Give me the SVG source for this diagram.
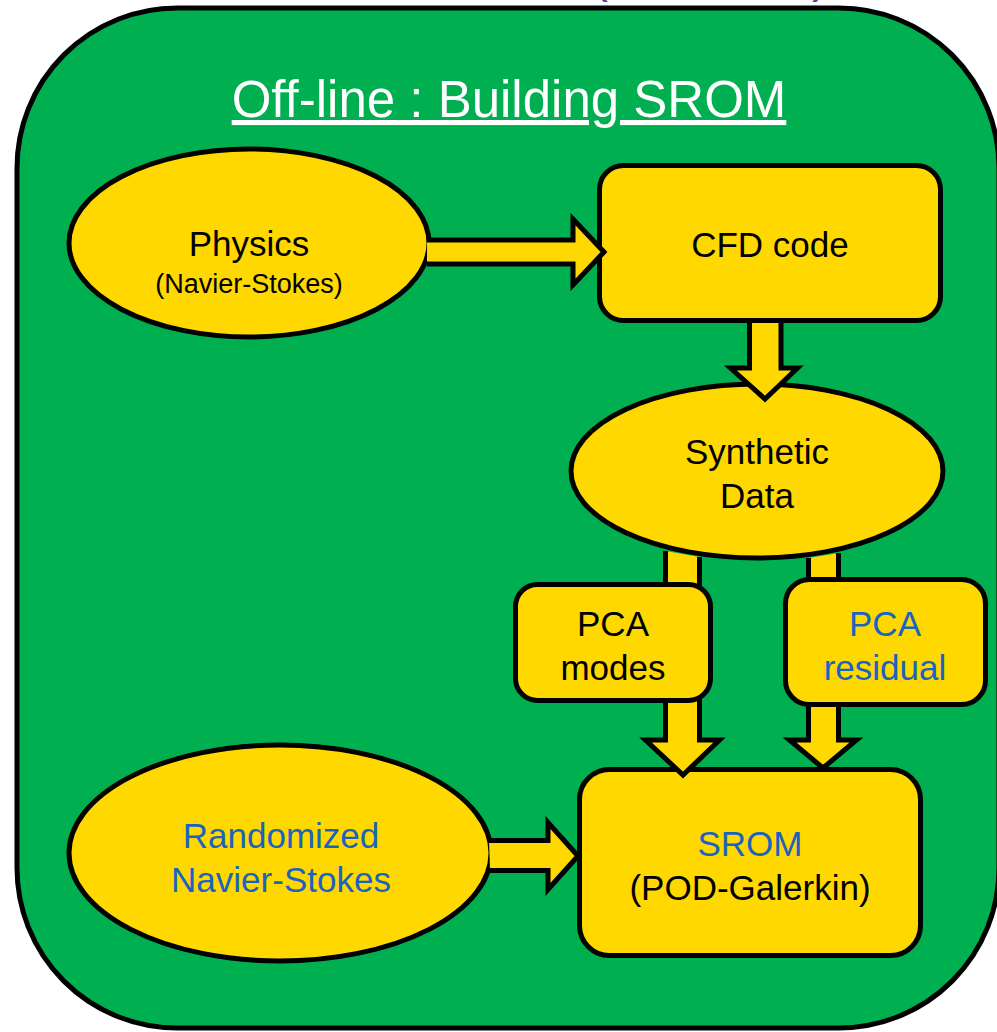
<svg xmlns="http://www.w3.org/2000/svg" width="997" height="1032" viewBox="0 0 997 1032">
<defs>
<style>
.node{fill:#FFD800;stroke:#000;stroke-width:5}
.arrow{fill:#FFD800;stroke:#000;stroke-width:5;stroke-linejoin:miter;stroke-miterlimit:10}
.t{font-family:"Liberation Sans",Arial,sans-serif;font-size:35px;text-anchor:middle;fill:#000}
.blue{fill:#1B63BF}
.small{font-size:27px}
</style>
</defs>
<rect width="997" height="1032" fill="#FFFFFF"/>
<g id="cut-title">
<text x="592" y="-8" font-family="Liberation Sans,sans-serif" font-size="48" fill="#7030A0">(</text>
<text x="812" y="-8" font-family="Liberation Sans,sans-serif" font-size="48" fill="#7030A0">)</text>
</g>
<g id="frame">
<rect x="17" y="8" width="982" height="1020" rx="160" ry="160" fill="#00AF50" stroke="#000" stroke-width="5"/>
<text x="509" y="117" font-family="Liberation Sans,Arial,sans-serif" font-size="51" fill="#FFFFFF" text-anchor="middle" text-decoration="underline">Off-line : Building SROM</text>
</g>
<g id="physics">
<ellipse class="node" cx="249" cy="243" rx="180" ry="94"/>
<text class="t" x="249" y="256">Physics</text>
<text class="t small" x="249" y="293">(Navier-Stokes)</text>
</g>
<g id="cfd">
<rect class="node" x="599.5" y="165.5" width="341" height="155" rx="24"/>
<text class="t" x="770" y="257">CFD code</text>
</g>
<g id="synthetic">
<ellipse class="node" cx="757" cy="471" rx="186" ry="87"/>
<text class="t" x="757" y="464">Synthetic</text>
<text class="t" x="757" y="508">Data</text>
</g>
<g id="randomized">
<ellipse class="node" cx="280" cy="853" rx="211" ry="108"/>
<text class="t blue" x="281" y="848">Randomized</text>
<text class="t blue" x="281" y="892">Navier-Stokes</text>
</g>
<g id="srom">
<rect class="node" x="579.5" y="769.5" width="341" height="186" rx="30"/>
<text class="t blue" x="750" y="856">SROM</text>
<text class="t" x="750" y="900">(POD-Galerkin)</text>
</g>
<g id="connectors">
<path class="arrow" d="M427,240 H573 V219 L604,252 L573,285 V264 H427"/>
<path class="arrow" d="M749.5,323 V368 H730.5 L765,399 L797.5,368 H781 V323"/>
<path class="arrow" d="M665.5,551 V740 H645.5 L683,775 L719.5,740 H699.5 V557"/>
<path class="arrow" d="M808.5,558 V740 H789.5 L823,768 L856.5,740 H838.5 V553"/>
<path class="arrow" d="M489,840.5 H548 V822.5 L578,856 L548,889.5 V870.5 H490"/>
</g>
<g id="pca-modes">
<rect class="node" x="515.5" y="584.5" width="195" height="116" rx="22"/>
<text class="t" x="613" y="636">PCA</text>
<text class="t" x="613" y="680">modes</text>
</g>
<g id="pca-residual">
<rect class="node" x="785.5" y="579.5" width="200" height="125" rx="24"/>
<text class="t blue" x="885" y="636">PCA</text>
<text class="t blue" x="885" y="680">residual</text>
</g>
</svg>
